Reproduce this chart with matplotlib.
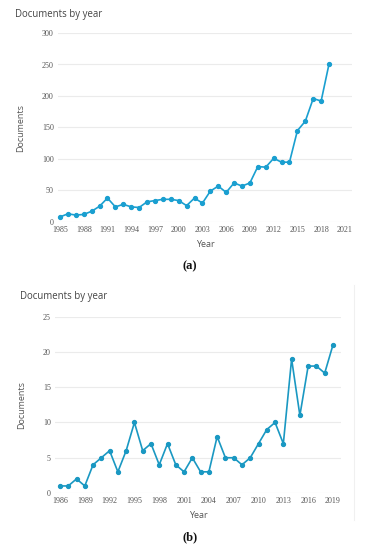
import matplotlib
matplotlib.use("Agg")
import matplotlib.pyplot as plt
from matplotlib.lines import Line2D

years_a = list(range(1985, 2020))
docs_a = [8, 13, 11, 12, 17, 25, 38, 24, 28, 24, 23, 32, 34, 36, 36, 34, 26, 38, 30, 49,
          57, 47, 62, 57, 62, 88, 87, 101, 95, 95, 145, 160, 196, 192, 251]
xticks_a = list(range(1985, 2022, 3))
yticks_a = [0, 50, 100, 150, 200, 250, 300]

years_b = list(range(1986, 2020))
docs_b = [1, 1, 2, 1, 4, 5, 6, 3, 6, 10, 6, 7, 4, 7, 4, 3, 5, 3, 3, 8,
          5, 5, 4, 5, 7, 9, 10, 7, 19, 11, 18, 18, 17, 21]
xticks_b = list(range(1986, 2020, 3))
yticks_b = [0, 5, 10, 15, 20, 25]

W, H = 373, 550
fig = plt.figure(figsize=(W / 100, H / 100), dpi=100)

tick_font = dict(family="Liberation Serif", size=5.8, color="#555555")
label_font = dict(family="Open Sans", size=6.5, color="#555555")
title_font = dict(family="Open Sans", size=6.9, color="#444444")


def px(x0, y0, x1, y1):
    return [x0 / W, 1 - y1 / H, (x1 - x0) / W, (y1 - y0) / H]


def style(ax, xticks, yticks, xlim, ylim):
    ax.set_xlim(*xlim)
    ax.set_ylim(*ylim)
    ax.set_xticks(xticks)
    ax.set_yticks(yticks)
    for s in ax.spines.values():
        s.set_visible(False)
    ax.grid(axis="y", color="#ebebeb", linewidth=0.8)
    ax.set_axisbelow(True)
    ax.tick_params(length=0, pad=3)
    for lab in ax.get_xticklabels() + ax.get_yticklabels():
        lab.set_fontfamily(tick_font["family"])
        lab.set_fontsize(tick_font["size"])
        lab.set_color(tick_font["color"])


# Panel (a)
ax1 = fig.add_axes(px(58, 33, 352, 222))
ax1.plot(years_a, docs_a, color="#1a9fd0", linewidth=1.2, marker="o",
         markersize=2.8, clip_on=False)
style(ax1, xticks_a, yticks_a, (1984.75, 2021.9), (0, 300))
ax1.set_xlabel("Year", labelpad=4, **label_font)
ax1.set_ylabel("Documents", labelpad=12, **label_font)
fig.text(15 / W, 1 - 14 / H, "Documents by year", ha="left", va="center", **title_font)
fig.text(190 / W, 1 - 266 / H, "(a)", ha="center", va="center",
         family="Liberation Serif", size=9, weight="bold", color="#111111")

# Panel (b)
ax2 = fig.add_axes(px(55, 316.7, 341, 493))
ax2.plot(years_b, docs_b, color="#1a98c2", linewidth=1.2, marker="o",
         markersize=2.8, clip_on=False)
style(ax2, xticks_b, yticks_b, (1985.4, 2019.97), (0, 25))
ax2.set_xlabel("Year", labelpad=4, **label_font)
ax2.set_ylabel("Documents", labelpad=12, **label_font)
fig.text(20 / W, 1 - 297 / H, "Documents by year", ha="left", va="center", **title_font)
fig.text(190 / W, 1 - 537 / H, "(b)", ha="center", va="center",
         family="Liberation Serif", size=9, weight="bold", color="#111111")

fig.add_artist(Line2D([354 / W, 354 / W], [1 - 285 / H, 1 - 520 / H],
                      transform=fig.transFigure, color="#f0f0f0", linewidth=0.8))

fig.savefig("out.png", dpi=100, facecolor="white")
